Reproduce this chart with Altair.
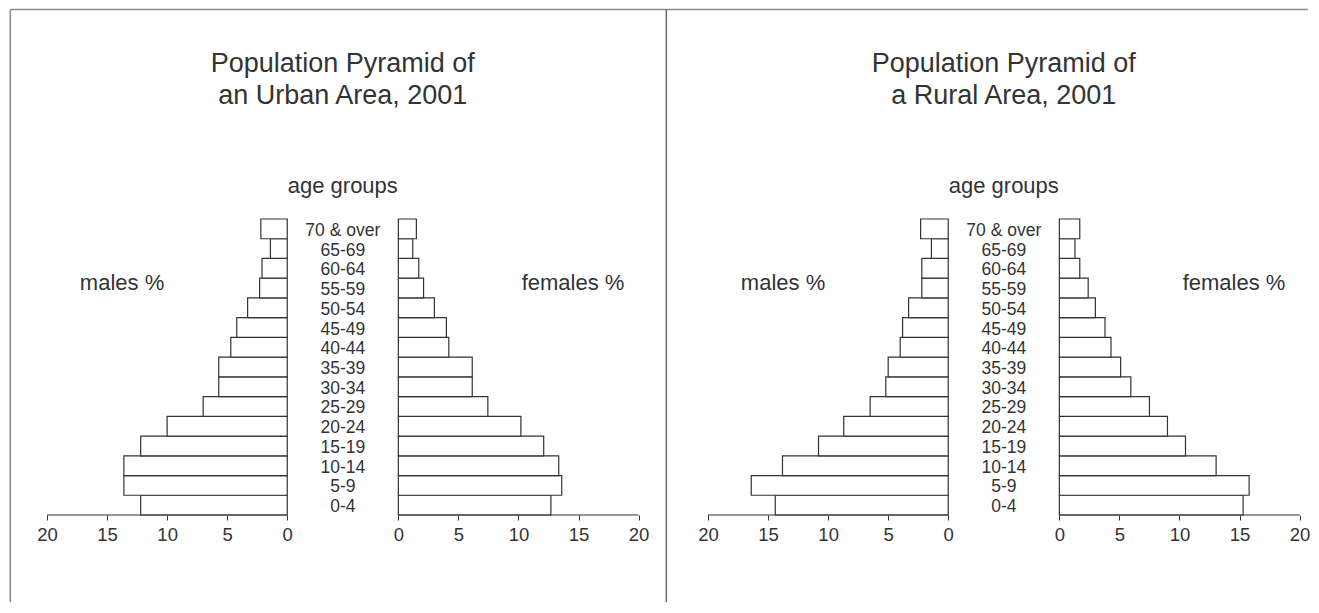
import altair as alt
import pandas as pd

# ---- data ----
ages = ["0-4", "5-9", "10-14", "15-19", "20-24", "25-29", "30-34", "35-39",
        "40-44", "45-49", "50-54", "55-59", "60-64", "65-69", "70 & over"]
urban_males = [12.2, 13.6, 13.6, 12.2, 10.0, 7.0, 5.7, 5.7, 4.7, 4.2, 3.3, 2.3, 2.1, 1.4, 2.2]
urban_females = [12.7, 13.6, 13.35, 12.1, 10.2, 7.45, 6.15, 6.15, 4.2, 4.0, 3.0, 2.1, 1.7, 1.2, 1.5]
rural_males = [14.4, 16.4, 13.8, 10.8, 8.7, 6.5, 5.2, 5.0, 4.0, 3.8, 3.3, 2.2, 2.2, 1.4, 2.3]
rural_females = [15.3, 15.8, 13.05, 10.5, 9.0, 7.5, 5.95, 5.1, 4.3, 3.8, 3.0, 2.4, 1.7, 1.3, 1.7]
axis_ticks = [0, 5, 10, 15, 20]
urban_title = ["Population Pyramid of", "an Urban Area, 2001"]
rural_title = ["Population Pyramid of", "a Rural Area, 2001"]

# ---- layout / style ----
GAP = 4.625          # half of the central gap, in % units
XMAX = 20 + GAP
W, H = 591.6, 296
INK = "#333333"
BORDER = "#8a8a8a"
FONT = "Liberation Sans"

order = ages[::-1]
x_scale = alt.Scale(domain=[-XMAX, XMAX], nice=False, zero=False)
x_axis = alt.Axis(
    values=[-(t + GAP) for t in axis_ticks] + [t + GAP for t in axis_ticks],
    labelExpr=f"format(abs(datum.value) - {GAP}, 'd')",
    domain=False, grid=False, tickSize=5, tickColor=INK, tickWidth=1,
    labelFont=FONT, labelFontSize=18.5, labelColor=INK, labelPadding=5,
    labelFlush=False, labelOverlap=False, title=None,
)
y_enc = alt.Y("age:N", scale=alt.Scale(domain=order, paddingInner=0, paddingOuter=0), axis=None)
one = pd.DataFrame({"k": [0]})


def xcenter():
    return alt.X(datum=0, type="quantitative", scale=x_scale, axis=x_axis)


def note(text, y, size, xpix=None, baseline="middle"):
    enc = dict(text=alt.value(text), y=alt.value(y))
    enc["x"] = alt.value(xpix) if xpix is not None else xcenter()
    return alt.Chart(one).mark_text(
        font=FONT, fontSize=size, color=INK, baseline=baseline, align="center"
    ).encode(**enc)


def panel(males, females, title_lines, divider):
    df = pd.DataFrame({"age": ages, "males": males, "females": females})
    base = alt.Chart(df)
    male_bars = base.transform_calculate(
        xa=f"-(datum.males + {GAP})", xb=f"-{GAP}"
    ).mark_bar(fill="white", stroke=INK, strokeWidth=1.2).encode(
        x=alt.X("xa:Q", scale=x_scale, axis=x_axis), x2="xb:Q", y=y_enc
    )
    female_bars = base.transform_calculate(
        xa=f"{GAP}", xb=f"datum.females + {GAP}"
    ).mark_bar(fill="white", stroke=INK, strokeWidth=1.2).encode(
        x=alt.X("xa:Q", scale=x_scale, axis=x_axis), x2="xb:Q", y=y_enc
    )
    age_text = base.mark_text(font=FONT, fontSize=17.5, color=INK, dy=2).encode(
        x=xcenter(), y=y_enc, text="age:N"
    )
    axis_df = pd.DataFrame({"start": [-XMAX, GAP], "end": [-GAP, XMAX]})
    axis_lines = alt.Chart(axis_df).mark_rule(color=INK, strokeWidth=1.2).encode(
        x=alt.X("start:Q", scale=x_scale, axis=x_axis), x2="end:Q", y=alt.value(H)
    )
    layers = [
        male_bars, female_bars, age_text, axis_lines,
        note(title_lines[0], -147.5, 27, baseline="alphabetic"),
        note(title_lines[1], -115.5, 27, baseline="alphabetic"),
        note("age groups", -33.5, 22),
        note("males %", 63.5, 22, xpix=75),
        note("females %", 63.5, 22, xpix=526),
    ]
    if divider:
        layers += [
            alt.Chart(one).mark_rule(color=BORDER, strokeWidth=1.5).encode(
                x=alt.value(-36.7), y=alt.value(-209.5), y2=alt.value(383)),
            alt.Chart(one).mark_rule(color=BORDER, strokeWidth=1.5).encode(
                x=alt.value(-36.7), x2=alt.value(1261), y=alt.value(-209.5)),
            alt.Chart(one).mark_rule(color="#6a6a6a", strokeWidth=1.5).encode(
                x=alt.value(619.3), y=alt.value(-209.5), y2=alt.value(383)),
        ]
    return alt.layer(*layers).properties(width=W, height=H)


urban = panel(urban_males, urban_females, urban_title, True)
rural = panel(rural_males, rural_females, rural_title, False)

chart = alt.hconcat(urban, rural, spacing=69, bounds="flush").properties(
    padding={"left": 1, "top": 0, "right": 0, "bottom": 0}
).configure_view(stroke="transparent")

chart.save("out.html", embed_options={"renderer": "svg", "actions": False})
